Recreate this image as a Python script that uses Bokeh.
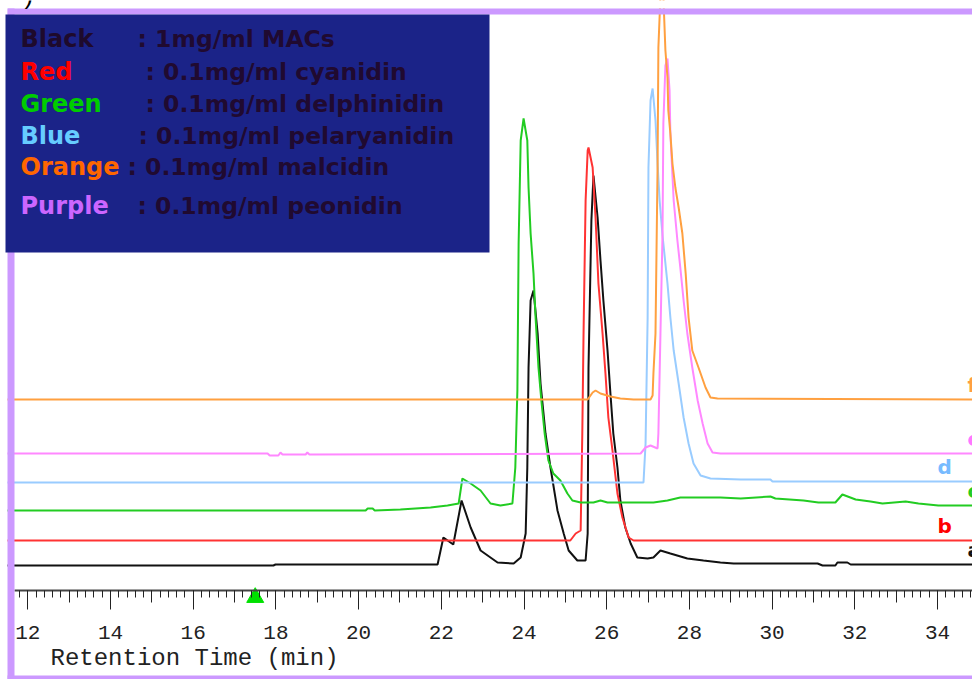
from bokeh.plotting import figure
from bokeh.models import Range1d, LinearAxis, FixedTicker, BoxAnnotation, Label
from bokeh.embed import file_html
from bokeh.resources import INLINE

# ---------------- data (retention time in min, detector response in arbitrary units) -------------
time_a = [11.40, 17.94, 17.99, 21.91, 22.05, 22.29, 22.49, 22.71, 22.95, 23.36, 23.75, 23.92, 24.04, 24.08,
          24.11, 24.16, 24.23, 24.33, 24.40, 24.52, 24.64, 24.81, 24.96, 25.08, 25.29, 25.49, 25.54, 25.56,
          25.63, 25.68, 25.78, 25.85, 25.92, 26.02, 26.09, 26.16, 26.26, 26.33, 26.45, 26.58, 26.74, 26.99,
          27.13, 27.30, 27.54, 27.95, 28.34, 28.75, 29.07, 31.10, 31.22, 31.53, 31.58, 31.82, 31.90, 34.85]
sig_a = [0, 0, 1, 1, 28, 21, 65, 38, 15, 3, 2, 8, 32, 98, 198, 265, 275, 232, 182, 132, 98, 55, 32, 15, 5, 5,
         32, 198, 345, 390, 348, 305, 265, 215, 172, 132, 98, 65, 38, 22, 8, 7, 8, 15, 12, 7, 5, 3, 2, 2, 0, 0,
         3, 3, 1, 1]

time_b = [11.40, 25.12, 25.25, 25.37, 25.41, 25.44, 25.49, 25.54, 25.56, 25.66, 25.73, 25.80, 25.90, 25.97,
          26.04, 26.14, 26.26, 26.38, 26.53, 26.65, 34.85]
sig_b = [0, 0, 7, 10, 107, 207, 340, 390, 393, 373, 323, 257, 207, 167, 123, 90, 47, 23, 3, 0, 0]

time_c = [11.40, 20.17, 20.22, 20.34, 20.39, 21.01, 21.74, 22.15, 22.42, 22.51, 22.71, 22.95, 23.19, 23.43,
          23.72, 23.79, 23.84, 23.87, 23.92, 23.99, 24.08, 24.11, 24.16, 24.23, 24.28, 24.35, 24.42, 24.50,
          24.59, 24.71, 24.88, 25.05, 25.17, 25.37, 25.68, 25.85, 26.02, 27.13, 27.47, 27.78, 28.34, 28.75,
          29.24, 29.96, 30.08, 30.76, 31.12, 31.53, 31.70, 32.02, 32.38, 32.67, 33.23, 33.54, 34.02, 34.85]
sig_c = [0, 0, 2, 2, 0, 1, 3, 5, 7, 32, 27, 20, 7, 5, 7, 43, 120, 267, 370, 392, 370, 323, 277, 237, 193, 143,
         110, 77, 50, 37, 30, 17, 10, 8, 8, 10, 8, 8, 10, 13, 13, 13, 12, 14, 12, 10, 8, 8, 16, 11, 9, 7, 9, 7,
         5, 5]

time_d = [11.40, 26.89, 26.94, 26.99, 27.01, 27.06, 27.11, 27.13, 27.18, 27.23, 27.28, 27.35, 27.47, 27.54,
          27.62, 27.74, 27.86, 27.98, 28.10, 28.27, 28.51, 29.24, 29.96, 30.01, 34.85]
sig_d = [0, 0, 39, 165, 315, 382, 394, 385, 362, 319, 282, 247, 199, 165, 132, 99, 65, 39, 19, 7, 4, 3, 3, 1, 1]

time_e = [11.40, 17.80, 17.85, 18.06, 18.11, 18.16, 18.72, 18.76, 18.81, 26.82, 26.94, 27.06, 27.23, 27.25,
          27.30, 27.35, 27.37, 27.42, 27.47, 27.52, 27.54, 27.62, 27.71, 27.78, 27.86, 27.95, 28.07, 28.20,
          28.32, 28.44, 28.56, 28.75, 34.85]
sig_e = [0, 0, -2, -2, 1, -1, -1, 1, -1, 0, 6, 8, 5, 20, 120, 220, 330, 388, 395, 363, 320, 253, 213, 186, 153,
         120, 86, 53, 30, 10, 1, 0, 0]

time_f = [11.40, 25.54, 25.66, 25.73, 25.85, 26.09, 26.33, 26.65, 27.06, 27.11, 27.13, 27.18, 27.23, 27.25,
          27.30, 27.37, 27.42, 27.47, 27.49, 27.54, 27.59, 27.66, 27.74, 27.83, 27.91, 27.98, 28.07, 28.22,
          28.39, 28.51, 28.68, 34.85]
sig_f = [0, 0, 7, 9, 6, 3, 1, 0, 0, 4, 26, 66, 232, 352, 404, 404, 349, 322, 289, 266, 236, 212, 192, 166, 126,
         82, 49, 32, 12, 2, 1, 0]

trace_ids = ["a", "b", "c", "d", "e", "f"]
trace_offsets = [25, 50, 80, 108, 137, 191]
trace_colors = ["#111111", "#ff3333", "#22cc22", "#99ccff", "#ff88ff", "#ffa040"]

legend_names = ["Black", "Red", "Green", "Blue", "Orange", "Purple"]
legend_desc = [": 1mg/ml MACs", ": 0.1mg/ml cyanidin", ": 0.1mg/ml delphinidin",
               ": 0.1mg/ml pelaryanidin", ": 0.1mg/ml malcidin", ": 0.1mg/ml peonidin"]
legend_name_colors = ["#1e0a2c", "#ff0000", "#00cc00", "#66ccff", "#ff6600", "#cc66ff"]

x_ticks = list(range(12, 35, 2))
x_mid_ticks = list(range(13, 35, 2))
event_times = [17.5]
x_label = "Retention Time (min)"


# ---------------- layout helpers (pixel -> data, for decorations only) -------------
def px_x(px):
    return 14 + (px - 110) / 41.35


def px_y(py):
    return 590 - py


p = figure(width=972, height=679, x_range=Range1d(px_x(0), px_x(972)), y_range=Range1d(px_y(679), px_y(0)),
           output_backend="svg", toolbar_location=None, x_axis_location=None, y_axis_location=None,
           title=None)
p.min_border_left = 0
p.min_border_right = 0
p.min_border_top = 0
p.min_border_bottom = 0
p.outline_line_color = None
p.background_fill_color = "white"
p.border_fill_color = "white"
p.grid.visible = False

times = [time_a, time_b, time_c, time_d, time_e, time_f]
sigs = [sig_a, sig_b, sig_c, sig_d, sig_e, sig_f]
for t, s, off, col in zip(times, sigs, trace_offsets, trace_colors):
    p.line(t, [off + v for v in s], line_color=col, line_width=2)

# axis (drawn at zero response level)
minor = [round(11.8 + 0.2 * i, 1) for i in range(116)]
bounds = (px_x(14), px_x(972))
ax1 = LinearAxis(fixed_location=0, bounds=bounds, ticker=FixedTicker(ticks=x_ticks, minor_ticks=minor),
                 major_tick_in=0, major_tick_out=19, minor_tick_in=0, minor_tick_out=7,
                 major_tick_line_color="#222222", minor_tick_line_color="#222222",
                 axis_line_color="#444444", axis_line_width=2,
                 major_label_text_font="Liberation Mono", major_label_text_font_size="21px",
                 major_label_text_color="#222222", major_label_standoff=16)
ax2 = LinearAxis(fixed_location=0, bounds=bounds, ticker=FixedTicker(ticks=x_mid_ticks, minor_ticks=[]),
                 major_tick_in=0, major_tick_out=12, minor_tick_in=0, minor_tick_out=0,
                 major_tick_line_color="#222222", axis_line_color=None,
                 major_label_text_color=None)
p.add_layout(ax1, "below")
p.add_layout(ax2, "below")

p.scatter(event_times, [px_y(597)] * len(event_times), marker="triangle", size=17,
          fill_color="#00e000", line_color="#00e000")

# frame decorations
W = "white"
PUR = "#cc99ff"
for (l, r, t, b, c) in [
    (0, 972, 0, 8, W),
    (7, 972, 8, 14, PUR),
    (0, 7, 0, 679, W),
    (7, 14, 8, 679, PUR),
    (7, 972, 675, 679, PUR),
    (5, 489, 14, 252, "#1b2388"),
]:
    p.add_layout(BoxAnnotation(left=px_x(l), right=px_x(r), top=px_y(t), bottom=px_y(b),
                               fill_color=c, fill_alpha=1, line_color=None))

# legend texts
FONT = "DejaVu Sans"
name_x = 20
desc_x = [137, 145, 145, 138, 127, 137]
mid_y = [38, 71, 103, 135, 166, 205]
for name, desc, col, dx, my in zip(legend_names, legend_desc, legend_name_colors, desc_x, mid_y):
    p.add_layout(Label(x=px_x(name_x), y=px_y(my), text=name, text_color=col, text_font=FONT,
                       text_font_style="bold", text_font_size="24px", text_baseline="middle"))
    p.add_layout(Label(x=px_x(dx), y=px_y(my), text=desc, text_color="#200a30", text_font=FONT,
                       text_font_style="bold", text_font_size="23.5px", text_baseline="middle"))

# trace letters
letter_pos = {"a": (967, 549), "b": (937, 525), "c": (967, 490), "d": (937, 466), "e": (967, 438), "f": (967, 384)}
letter_colors = ["#111111", "#ff0000", "#22cc22", "#77bbff", "#ff77ff", "#ffa040"]
for tid, col in zip(trace_ids, letter_colors):
    lx, ly = letter_pos[tid]
    p.add_layout(Label(x=px_x(lx), y=px_y(ly), text=tid, text_color=col, text_font=FONT,
                       text_font_style="bold", text_font_size="20px", text_baseline="middle"))

p.add_layout(Label(x=px_x(50), y=px_y(658), text=x_label, text_color="#222222", text_font="Liberation Mono",
                   text_font_size="24px", text_baseline="middle"))
p.add_layout(Label(x=px_x(24), y=px_y(-6), text=")", text_color="#000000", text_font="Liberation Sans",
                   text_font_size="26px", text_baseline="middle"))

open("out.html", "w").write(file_html(p, INLINE))
